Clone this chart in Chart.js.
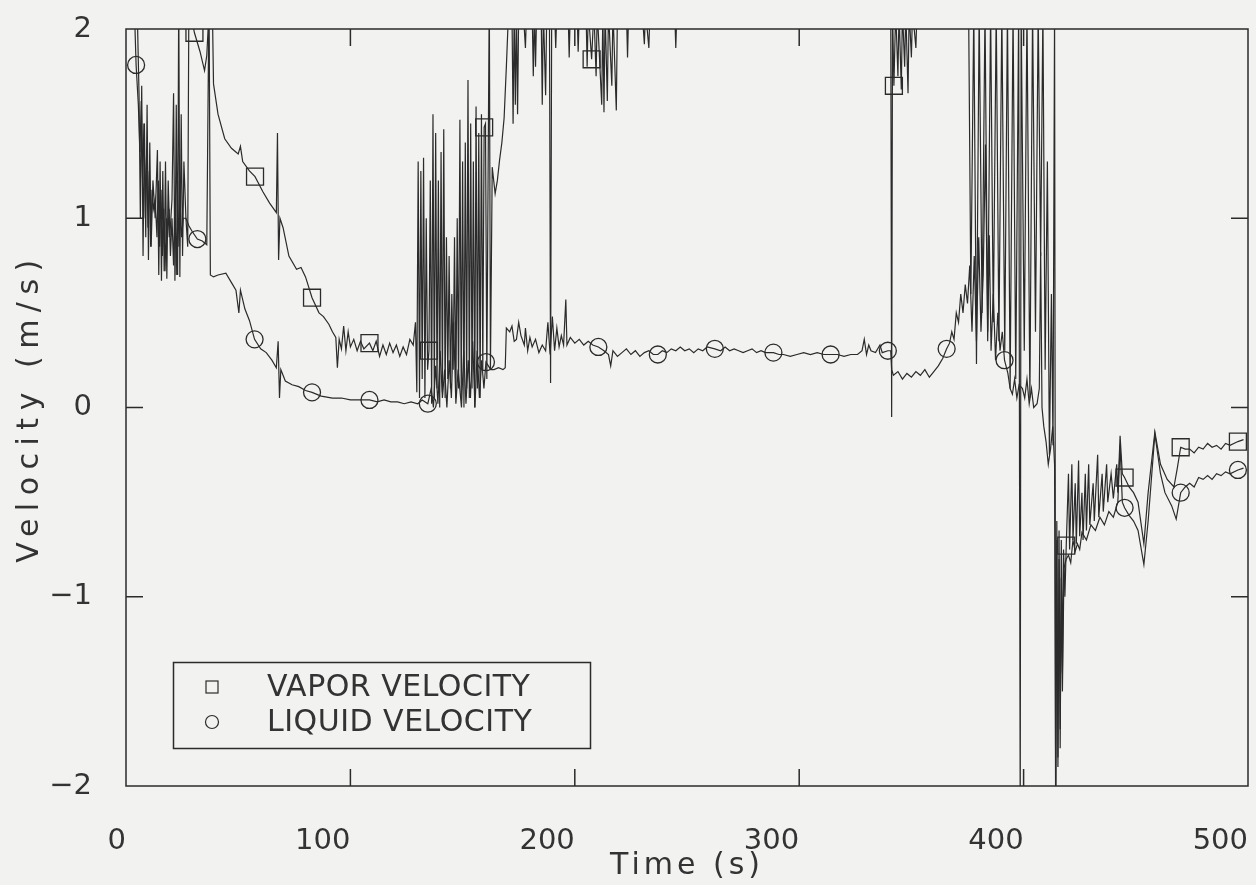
<!DOCTYPE html>
<html><head><meta charset="utf-8">
<script src="https://cdn.jsdelivr.net/npm/chart.js@4.4.1/dist/chart.umd.min.js"></script>
<style>html,body{margin:0;padding:0;background:#f2f2f0;}canvas{display:block;}</style>
</head><body>
<canvas id="c" width="1256" height="885"></canvas>
<script>
// ---------------- data ----------------
const seriesNames = ['VAPOR VELOCITY', 'LIQUID VELOCITY'];
const xTitle = 'Time (s)';
const yTitle = 'Velocity (m/s)';
const xRange = [0, 500];
const yRange = [-2, 2];
const xStep = 100;
const yStep = 1;

const vaporTime = [2,5,5.8,6.4,7,7.6,8.2,8.8,9.4,10,10.6,11.2,12,13,14,14.6,15.2,15.8,16.4,17,17.6,18.2,18.8,19.5,20.5,21.2,21.8,22.4,23,23.5,24,24.6,25.2,25.8,26.7,27.5,28,29.3,30.5,33,35,36,37,38.5,
39,41,44,47,50,51,52,55,57.5,61,64,67,67.5,68,68.6,70,72.6,76,78,80,82.9,86,88,90.4,92,93.5,94.2,95,96,97,98,99,100,101.5,103,104.5,106,108.5,110,111.5,113,114.5,116,117.5,119,120.5,122,123.5,125,126.5,128,
129,129.6,130.2,130.8,131.4,132,132.6,133.2,133.8,134.4,135,135.6,136.2,136.8,137.4,138,138.6,139.2,139.8,140.4,141,141.6,142.2,142.8,143.4,144,144.6,145.2,145.8,146.4,147,147.6,148.2,148.8,149.4,150,150.6,151.2,151.8,152.4,153,153.6,154.2,154.8,155.4,156,156.6,157.2,157.8,158.4,159,159.6,160.2,160.8,161.4,161.9,162.4,163.2,164.5,165.5,166.5,167.5,168.5,169.5,170.5,
172,172.5,173,173.5,174,174.5,175,177,178,178.5,181,181.5,182,182.5,183,185,185.5,186,187,187.5,188.7,189.2,189.7,191,191.5,192,197,197.5,198,201,201.5,202,205,205.5,206,207.5,208.5,209.5,210,212,212.5,213,213.5,214.5,215,216.5,217,218.5,219,223,223.5,224,230,231,231.5,233,233.5,244.5,245,245.5,
340.8,341.2,341.6,342.2,343,344,344.5,345.5,346,347,347.5,348.5,349,350,350.5,352,352.5,375.5,
376.5,377.8,379,380.2,381.5,382.8,384,385.3,386.5,387.8,389,390.3,391.6,392.8,394,395.3,396.5,397.8,398.5,398.9,400.3,401.5,402.8,404,405.3,406.5,407.6,408.6,409.6,410.6,411.5,412.4,413.1,413.8,
414.3,414.8,415.3,415.8,416.3,416.8,417.3,417.8,418.4,419,420,420.5,421.5,422,423,423.5,424.5,425,426,426.5,427.5,428,429,429.5,431,431.5,433,433.5,435,435.5,437,437.5,439,440,441.5,442,443,444,445,447,449,451,453.6,455.5,458.5,461,464,467,468.5,470,472,474,476,478,480,482,484,486,488,490,492,495.5,498];
const vaporVelocity = [2.2,2.1,1.66,1.0,1.7,0.8,1.5,0.9,1.6,0.78,1.4,0.85,1.2,1.0,1.36,0.7,1.3,0.67,1.25,0.72,1.3,0.68,1.2,0.9,1.1,1.66,0.67,1.6,0.7,2.2,0.69,1.55,0.8,1.3,1.0,0.85,2.1,2.05,1.98,1.88,1.78,1.86,2.1,2.1,
1.71,1.55,1.42,1.37,1.34,1.38,1.30,1.25,1.22,1.14,1.08,1.03,1.45,0.78,1.0,0.95,0.80,0.73,0.74,0.69,0.58,0.50,0.48,0.44,0.40,0.37,0.21,0.36,0.31,0.43,0.30,0.40,0.32,0.36,0.30,0.35,0.31,0.34,0.30,0.35,0.27,0.33,0.28,0.34,0.29,0.33,0.27,0.32,0.28,0.36,0.33,
0.45,0.08,1.30,0.05,1.25,0.15,1.32,0.05,1.0,0.2,0.30,1.2,0.02,1.55,0.05,1.45,0.1,1.2,0.0,1.35,0.08,1.47,0.05,0.9,0.15,0.8,0.1,0.6,0.2,0.9,0.05,1.0,0.1,1.52,0.05,1.3,0.0,1.4,0.1,1.73,0.05,1.5,0.1,1.3,0.0,1.59,0.1,1.45,0.05,1.55,0.2,1.48,1.5,0.15,1.3,2.2,0.2,1.27,1.13,1.2,1.31,1.40,1.53,1.8,2.1,
2.1,1.5,2.1,1.6,2.1,1.55,2.1,2.1,1.9,2.1,2.1,1.75,2.1,1.8,2.1,2.1,1.6,2.1,1.65,2.1,2.1,0.13,2.1,2.1,1.9,2.1,2.1,1.85,2.1,2.1,1.88,2.1,2.1,1.8,2.1,1.84,2.1,1.75,2.1,1.6,2.1,1.56,2.1,1.62,2.1,1.7,2.1,1.57,2.1,2.1,1.85,2.1,2.1,1.92,2.1,1.9,2.1,2.1,1.9,2.1,
2.1,-0.05,2.1,1.70,2.1,1.75,2.1,1.68,2.1,1.8,2.1,1.66,2.1,1.85,2.1,1.9,2.1,2.1,
0.6,2.1,0.23,2.1,0.5,2.1,0.4,2.1,0.45,2.1,0.35,2.1,0.3,2.1,0.1,2.1,0.15,2.1,-2.2,2.1,0.3,2.1,0.05,2.1,0.4,2.1,0.8,2.1,0.2,1.3,-0.25,0.6,-0.2,2.1,
-2.2,-0.6,-1.9,-0.65,-1.8,-0.7,-1.4,-0.75,-1.0,-0.73,-0.35,-0.75,-0.3,-0.7,-0.4,-0.72,-0.28,-0.68,-0.45,-0.7,-0.35,-0.65,-0.3,-0.62,-0.4,-0.6,-0.25,-0.58,-0.35,-0.55,-0.3,-0.5,-0.35,-0.48,-0.3,-0.45,-0.15,-0.35,-0.37,-0.42,-0.45,-0.5,-0.72,-0.45,-0.13,-0.3,-0.38,-0.42,-0.32,-0.21,-0.22,-0.22,-0.24,-0.21,-0.22,-0.19,-0.21,-0.20,-0.22,-0.19,-0.20,-0.18,-0.17];
const vaporMarkerTimes = [30.5,57.5,82.9,108.5,135,159.6,207.5,342.2,419,445,470,495.5];

const liquidTime = [3.5,4.5,5.5,6.2,6.8,7.4,8,8.6,9.2,9.8,10.4,11,11.6,12.2,13,13.8,14.4,15,15.6,16.2,16.8,17.4,18,18.6,19.2,19.8,20.5,21.2,21.8,22.4,23,23.6,24.2,24.8,25.5,26.7,28,29.5,31.8,34,36,37,37.6,39,41,44.5,47,49,50.3,51,53,55,57.3,60,62.5,65,67,67.8,68.4,69,71,74,77,80,82.9,87,92,96,100,104,108.5,112,115,118,121,124,127,130,132,134.5,
136,137,138,139,140,141,142,143,144,145,146,147,148,149.5,150.5,151.5,152.5,153.5,154.5,155.5,156.5,157.5,158.5,159.5,160.4,161.5,162.5,164,166,168,169,169.5,171,172,173,174,175,176,177.5,178,179,180,181,182.5,184,185.5,187,188,189,190,191,192,193,194,195,196,196.5,198,200,202,204,206,208,210.5,
213,215,216,217,219,221,223,225,227,229,231,233,235,237,239,241,243,245,247,249,251,253,255,257,259,262.4,265,267,269,271,273,275,277,279,281,283,285,288.5,291,293,296,299,302,305,308,311,314,317,320,323,326,328,329,330,331,332,334,336,337,339.5,
340.8,341.2,342,344,346,348,350,352,354,356,358,360,362,364,365.7,367,368,369,370,371,372,373,374,375,376,377,378,379,380,381,382,383,384,384.7,385.5,386.5,387.5,388.5,389.5,390.5,391.5,393,394,395,396,397,398,399.5,400.5,401.5,402.5,403.5,404.5,406,407,407.6,408.2,409,410,411,412,413,413.8,
414.3,414.8,415.3,415.8,416.3,416.8,417.3,418,419,420,421,422,423,424,425,426,428,430,432,434,436,438,440,442,443,444,445,447,449,451,453.6,455.5,458.5,461,463,466,468,470,472,474,476,478,480,482,484,486,488,490,492,495.5,498];
const liquidVelocity = [2.2,1.81,1.6,1.35,1.62,1.2,1.5,1.0,1.35,0.95,1.25,0.85,1.15,1.05,1.1,0.9,1.2,0.85,1.15,0.8,1.05,0.72,1.0,0.9,1.05,0.8,1.0,0.75,1.1,0.7,1.2,0.85,1.05,0.9,1.0,1.0,0.96,0.93,0.89,0.88,0.86,2.2,0.70,0.69,0.70,0.71,0.66,0.62,0.50,0.62,0.52,0.46,0.36,0.31,0.29,0.25,0.21,0.35,0.05,0.2,0.14,0.12,0.11,0.09,0.08,0.06,0.05,0.05,0.04,0.04,0.04,0.03,0.04,0.03,0.03,0.02,0.03,0.02,0.04,0.02,
0.1,0.0,0.22,0.02,0.3,0.05,0.2,0.0,0.25,0.05,0.45,0.02,0.2,0.0,0.3,0.02,0.25,0.05,0.35,0.0,0.3,0.05,0.25,0.1,0.24,0.22,0.20,0.2,0.21,0.2,0.21,0.42,0.40,0.43,0.35,0.36,0.45,0.38,0.33,0.42,0.30,0.37,0.32,0.36,0.29,0.33,0.3,0.45,0.28,0.48,0.3,0.42,0.32,0.38,0.33,0.57,0.33,0.37,0.34,0.36,0.33,0.35,0.33,0.32,
0.30,0.28,0.22,0.30,0.27,0.29,0.31,0.28,0.30,0.27,0.29,0.30,0.28,0.28,0.30,0.29,0.31,0.30,0.32,0.30,0.31,0.29,0.31,0.30,0.32,0.31,0.30,0.32,0.30,0.31,0.30,0.29,0.30,0.31,0.29,0.30,0.29,0.29,0.28,0.28,0.27,0.28,0.29,0.28,0.29,0.28,0.28,0.28,0.27,0.28,0.28,0.30,0.36,0.28,0.33,0.30,0.29,0.33,0.29,0.30,
0.30,0.20,0.17,0.19,0.15,0.18,0.16,0.19,0.17,0.20,0.16,0.19,0.22,0.26,0.31,0.34,0.40,0.36,0.50,0.45,0.60,0.5,0.65,0.55,0.75,0.4,0.8,0.35,0.9,0.4,0.7,1.39,0.35,0.91,0.3,0.6,0.25,0.5,0.3,0.4,0.25,0.18,0.1,0.07,0.15,0.05,0.12,0.1,0.05,0.15,0.02,0.1,0.0,0.02,0.1,0.82,0.0,-0.1,-0.18,-0.3,-0.22,-0.1,-0.3,
-2.2,-0.7,-1.85,-0.8,-1.7,-0.9,-1.5,-0.85,-0.80,-0.78,-0.82,-0.7,-0.76,-0.72,-0.75,-0.66,-0.7,-0.62,-0.65,-0.58,-0.62,-0.55,-0.58,-0.5,-0.2,-0.5,-0.53,-0.57,-0.6,-0.65,-0.83,-0.6,-0.14,-0.35,-0.45,-0.52,-0.59,-0.45,-0.42,-0.40,-0.42,-0.37,-0.38,-0.36,-0.38,-0.35,-0.36,-0.34,-0.35,-0.33,-0.32];
const liquidMarkerTimes = [4.5,31.8,57.3,82.9,108.5,134.5,160.4,210.5,237,262.4,288.5,314,339.5,365.7,391.5,445,470,495.5];

// ---------------- chart ----------------
const INK = '#2b2b2b';
const TEXT = '#333333';
Chart.defaults.font.family = '"DejaVu Sans", "Liberation Sans", sans-serif';
Chart.defaults.color = TEXT;

function points(ts, vs) { return ts.map((t, i) => ({ x: t, y: vs[i] })); }
function markerRadius(times, r) {
  const set = new Set(times);
  return ctx => (ctx.raw && set.has(ctx.raw.x)) ? r : 0;
}
function fixBox(size, prop) {
  return s => {
    s[prop] = size;
    s.paddingLeft = 0; s.paddingRight = 0; s.paddingTop = 0; s.paddingBottom = 0;
  };
}

const paperPlugin = {
  id: 'paper',
  beforeDraw(chart) {
    const c = chart.ctx;
    c.save();
    c.fillStyle = '#f2f2f0';
    c.fillRect(0, 0, chart.width, chart.height);
    c.restore();
    // spaced-out axis titles, as in the plotted original
    [['x', '4px'], ['y', '7.5px']].forEach(([id, sp]) => {
      const s = chart.scales[id];
      if (!s || s._spacedTitle) return;
      const orig = s.drawTitle;
      s.drawTitle = function () {
        const cx = this.ctx;
        cx.save(); cx.letterSpacing = sp; orig.call(this); cx.restore();
      };
      s._spacedTitle = true;
    });
  }
};

const framePlugin = {
  id: 'frame',
  afterDraw(chart) {
    const c = chart.ctx, a = chart.chartArea;
    const xs = chart.scales.x, ys = chart.scales.y;
    const len = 17;
    c.save();
    c.strokeStyle = INK;
    c.lineWidth = 1.5;
    c.strokeRect(a.left, a.top, a.right - a.left, a.bottom - a.top);
    c.beginPath();
    xs.ticks.forEach(tk => {
      if (tk.value <= xs.min || tk.value >= xs.max) return;
      const px = xs.getPixelForValue(tk.value);
      c.moveTo(px, a.bottom); c.lineTo(px, a.bottom - len);
      c.moveTo(px, a.top); c.lineTo(px, a.top + len);
    });
    ys.ticks.forEach(tk => {
      if (tk.value <= ys.min || tk.value >= ys.max) return;
      const py = ys.getPixelForValue(tk.value);
      c.moveTo(a.left, py); c.lineTo(a.left + len, py);
      c.moveTo(a.right, py); c.lineTo(a.right - len, py);
    });
    c.stroke();
    c.restore();
  }
};

const boxLegendPlugin = {
  id: 'boxLegend',
  afterDraw(chart) {
    const c = chart.ctx;
    c.save();
    c.strokeStyle = INK;
    c.lineWidth = 1.5;
    c.strokeRect(173.5, 662.5, 417, 86);
    c.lineWidth = 1.2;
    c.strokeRect(206, 681, 12, 12);
    c.beginPath(); c.arc(212, 722, 6.5, 0, Math.PI * 2); c.stroke();
    c.fillStyle = TEXT;
    c.letterSpacing = '0.5px';
    c.font = '30px "DejaVu Sans", sans-serif';
    c.textBaseline = 'middle';
    c.textAlign = 'left';
    c.fillText(seriesNames[0], 267, 688);
    c.fillText(seriesNames[1], 267, 723);
    c.restore();
  }
};

new Chart(document.getElementById('c'), {
  type: 'line',
  data: {
    datasets: [
      {
        label: seriesNames[0],
        data: points(vaporTime, vaporVelocity),
        borderColor: INK, borderWidth: 1.2,
        pointStyle: 'rect',
        pointRadius: markerRadius(vaporMarkerTimes, 12),
        pointBorderColor: INK, pointBackgroundColor: 'rgba(0,0,0,0)', pointBorderWidth: 1.3,
        tension: 0, clip: 0
      },
      {
        label: seriesNames[1],
        data: points(liquidTime, liquidVelocity),
        borderColor: INK, borderWidth: 1.2,
        pointStyle: 'circle',
        pointRadius: markerRadius(liquidMarkerTimes, 8.5),
        pointBorderColor: INK, pointBackgroundColor: 'rgba(0,0,0,0)', pointBorderWidth: 1.3,
        tension: 0, clip: 0
      }
    ]
  },
  options: {
    responsive: false,
    animation: false,
    events: [],
    layout: { padding: { top: 29, right: 8, left: 0, bottom: 0 } },
    plugins: { legend: { display: false }, tooltip: { enabled: false } },
    scales: {
      x: {
        type: 'linear', position: 'bottom',
        min: xRange[0], max: xRange[1],
        grid: { display: false }, border: { display: false },
        ticks: { stepSize: xStep, align: 'end', padding: 30, autoSkip: false, maxRotation: 0,
                 font: { size: 29 }, color: TEXT },
        title: { display: true, text: xTitle, font: { size: 30, lineHeight: 1 }, color: TEXT,
                 padding: { top: 0, bottom: 4 } },
        afterFit: fixBox(99, 'height')
      },
      y: {
        type: 'linear', position: 'left',
        min: yRange[0], max: yRange[1],
        grid: { display: false }, border: { display: false },
        ticks: { stepSize: yStep, padding: 26, font: { size: 29 }, color: TEXT,
                 callback: v => String(v).replace('-', '\u2212') },
        title: { display: true, text: yTitle, font: { size: 30, lineHeight: 1.2 }, color: TEXT,
                 padding: { top: 12, bottom: 0 } },
        afterFit: fixBox(126, 'width')
      }
    }
  },
  plugins: [paperPlugin, framePlugin, boxLegendPlugin]
});
</script>
</body></html>
